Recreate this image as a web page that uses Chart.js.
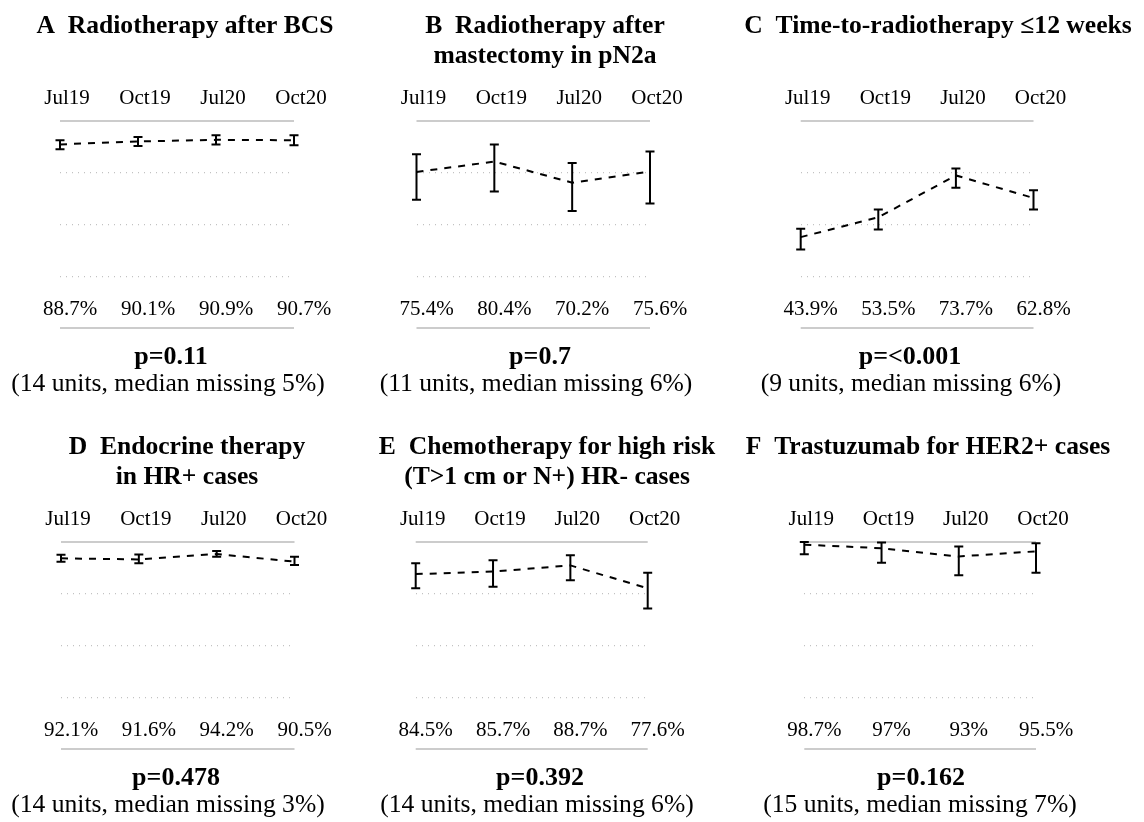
<!DOCTYPE html>
<html>
<head>
<meta charset="utf-8">
<title>Quality indicators by period</title>
<script src="https://cdn.jsdelivr.net/npm/chart.js@4.4.0/dist/chart.umd.min.js"></script>
<style>
  body { margin: 0; background: #fff; }
  #grid { position: relative; width: 1144px; height: 822px; }
  #grid canvas { position: absolute; }
</style>
</head>
<body>
<div id="grid"></div>
<script>
const periods = ['Jul19', 'Oct19', 'Jul20', 'Oct20'];

// A  radiotherapy after BCS
const rtBcs = [88.7, 90.1, 90.9, 90.7];
const rtBcsLow = [86.3, 87.9, 88.7, 88.3];
const rtBcsHigh = [90.7, 92.3, 93.1, 93.1];

// B  radiotherapy after mastectomy in pN2a
const rtMast = [75.4, 80.4, 70.2, 75.6];
const rtMastLow = [62.0, 66.0, 56.5, 60.1];
const rtMastHigh = [83.9, 88.7, 79.7, 85.3];

// C  time to radiotherapy <= 12 weeks
const rtTime = [43.9, 53.5, 73.7, 62.8];
const rtTimeLow = [37.9, 47.6, 67.8, 57.2];
const rtTimeHigh = [48.0, 57.3, 77.0, 66.5];

// D  endocrine therapy in HR+
const endo = [92.1, 91.6, 94.2, 90.5];
const endoLow = [90.4, 89.7, 92.9, 88.9];
const endoHigh = [93.8, 94.0, 95.6, 92.9];

// E  chemotherapy high risk HR-
const chemo = [84.5, 85.7, 88.7, 77.6];
const chemoLow = [77.7, 78.4, 81.5, 67.9];
const chemoHigh = [89.7, 91.2, 93.6, 85.2];

// F  trastuzumab HER2+
const trast = [98.7, 97, 93, 95.5];
const trastLow = [94.1, 90.0, 83.9, 85.2];
const trastHigh = [100, 99.7, 97.8, 99.4];

const titles = [
  ['A  Radiotherapy after BCS'],
  ['B  Radiotherapy after', 'mastectomy in pN2a'],
  ['C  Time-to-radiotherapy \u226412 weeks'],
  ['D  Endocrine therapy', 'in HR+ cases'],
  ['E  Chemotherapy for high risk', '(T>1 cm or N+) HR- cases'],
  ['F  Trastuzumab for HER2+ cases']
];
const pValues = ['p=0.11', 'p=0.7', 'p=<0.001', 'p=0.478', 'p=0.392', 'p=0.162'];
const notes = [
  '(14 units, median missing 5%)',
  '(11 units, median missing 6%)',
  '(9 units, median missing 6%)',
  '(14 units, median missing 3%)',
  '(14 units, median missing 6%)',
  '(15 units, median missing 7%)'
];

const series = [
  [rtBcs, rtBcsLow, rtBcsHigh],
  [rtMast, rtMastLow, rtMastHigh],
  [rtTime, rtTimeLow, rtTimeHigh],
  [endo, endoLow, endoHigh],
  [chemo, chemoLow, chemoHigh],
  [trast, trastLow, trastHigh]
];

// where each panel sits on the page (px, x values are page coords)
const layout = [
  {left: 0,   top: 0,   width: 372, plotL: 60,    plotR: 294,    titleX: 185, pX: 171, noteX: 168},
  {left: 372, top: 0,   width: 370, plotL: 416.5, plotR: 650,    titleX: 545, pX: 540, noteX: 536},
  {left: 742, top: 0,   width: 402, plotL: 800.7, plotR: 1033.5, titleX: 938, pX: 910, noteX: 911},
  {left: 0,   top: 421, width: 372, plotL: 61,    plotR: 294.5,  titleX: 187, pX: 176, noteX: 168},
  {left: 372, top: 421, width: 370, plotL: 415.7, plotR: 647.7,  titleX: 547, pX: 540, noteX: 537},
  {left: 742, top: 421, width: 402, plotL: 804.3, plotR: 1036,   titleX: 928, pX: 921, noteX: 920}
];
const PANEL_H = 401;
const serif = "'Liberation Serif', 'Times New Roman', serif";

const decor = {
  id: 'decor',
  beforeDatasetsDraw(chart) {
    const {ctx, chartArea: a, scales: {y}} = chart;
    ctx.save();
    ctx.strokeStyle = '#cccccc';
    ctx.lineWidth = 2;
    [0, 100].forEach(v => {
      const py = y.getPixelForValue(v);
      ctx.beginPath();
      ctx.moveTo(a.left, py);
      ctx.lineTo(a.right, py);
      ctx.stroke();
    });
    ctx.restore();
  },
  afterDatasetsDraw(chart, args, o) {
    const {ctx, chartArea: a, scales: {x, y}} = chart;
    const ds = chart.data.datasets[0];
    ctx.save();
    // error bars
    ctx.strokeStyle = '#000';
    ctx.lineWidth = 2;
    ds.data.forEach((v, i) => {
      const px = x.getPixelForValue(i);
      const hi = y.getPixelForValue(ds.high[i]);
      const lo = y.getPixelForValue(ds.low[i]);
      ctx.beginPath();
      ctx.moveTo(px, hi); ctx.lineTo(px, lo);
      ctx.moveTo(px - 4.5, hi); ctx.lineTo(px + 4.5, hi);
      ctx.moveTo(px - 4.5, lo); ctx.lineTo(px + 4.5, lo);
      ctx.stroke();
    });
    // texts
    ctx.fillStyle = '#000';
    ctx.textAlign = 'center';
    ctx.textBaseline = 'alphabetic';
    ctx.font = 'bold 25.6px ' + serif;
    o.title.forEach((line, k) => ctx.fillText(line, o.titleX, 33 + 30 * k));
    ctx.font = '21px ' + serif;
    chart.data.labels.forEach((lab, i) => {
      const px = x.getPixelForValue(i);
      ctx.fillText(lab, px + 7, a.top - 17);
      ctx.fillText(ds.data[i] + '%', px + 10, a.bottom - 13.5);
    });
    ctx.font = 'bold 26px ' + serif;
    ctx.fillText(o.p, o.pX, a.bottom + 36);
    ctx.font = '25.6px ' + serif;
    ctx.fillText(o.note, o.noteX, a.bottom + 63);
    ctx.restore();
  }
};

const grid = document.getElementById('grid');
layout.forEach((L, k) => {
  const cv = document.createElement('canvas');
  cv.width = L.width;
  cv.height = PANEL_H;
  cv.style.left = L.left + 'px';
  cv.style.top = L.top + 'px';
  grid.append(cv);

  const [vals, low, high] = series[k];
  new Chart(cv.getContext('2d'), {
    type: 'line',
    data: {
      labels: periods,
      datasets: [{
        data: vals,
        low: low,
        high: high,
        borderColor: '#000',
        borderWidth: 2,
        borderDash: [7, 7],
        pointRadius: 0,
        fill: false,
        tension: 0
      }]
    },
    options: {
      responsive: false,
      animation: false,
      layout: {
        padding: {
          left: L.plotL - L.left,
          right: L.left + L.width - L.plotR,
          top: 121,
          bottom: PANEL_H - 328
        }
      },
      plugins: {
        legend: {display: false},
        tooltip: {enabled: false},
        decor: {
          title: titles[k], p: pValues[k], note: notes[k],
          titleX: L.titleX - L.left, pX: L.pX - L.left, noteX: L.noteX - L.left
        }
      },
      scales: {
        x: {type: 'category', display: false, offset: false},
        y: {
          min: 0, max: 100,
          ticks: {display: false, stepSize: 25},
          grid: {
            drawTicks: false,
            lineWidth: 1.2,
            color: c => (c.tick.value === 0 || c.tick.value === 100) ? 'rgba(0,0,0,0)' : '#c2c2c2'
          },
          border: {display: false, dash: [1, 5]}
        }
      }
    },
    plugins: [decor]
  });
});
</script>
</body>
</html>
